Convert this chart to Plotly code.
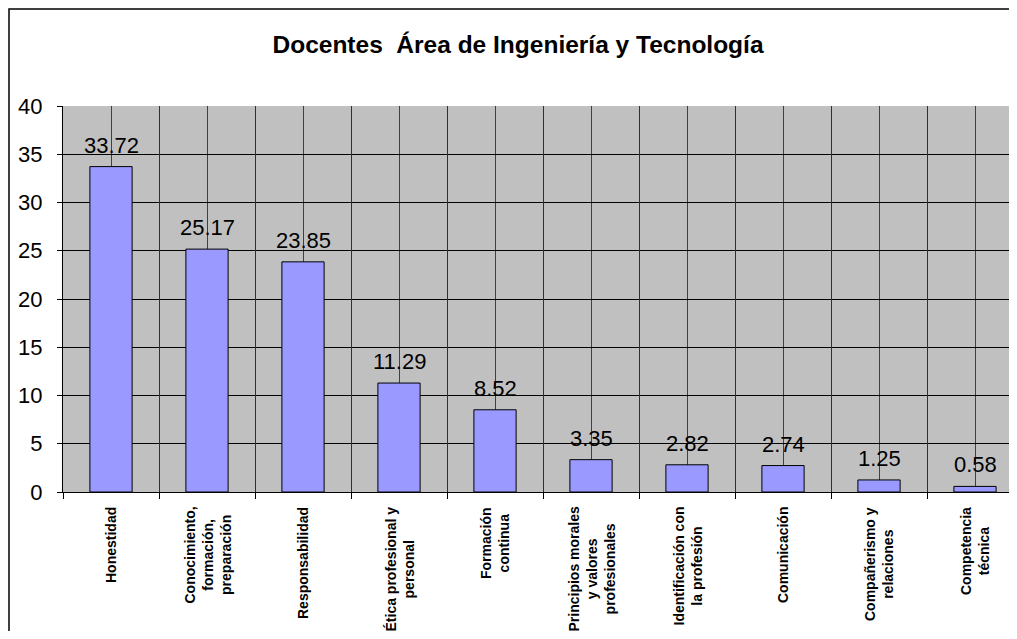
import plotly.graph_objects as go

categories = [
    "Honestidad",
    "Conocimiento,<br>formación,<br>preparación",
    "Responsabilidad",
    "Ética profesional y<br>personal",
    "Formación<br>continua",
    "Principios morales<br>y valores<br>profesionales",
    "Identificación con<br>la profesión",
    "Comunicación",
    "Compañerismo y<br>relaciones",
    "Competencia<br>técnica",
]
values = [33.72, 25.17, 23.85, 11.29, 8.52, 3.35, 2.82, 2.74, 1.25, 0.58]
y_ticks = [0, 5, 10, 15, 20, 25, 30, 35, 40]
title_text = "Docentes  Área de Ingeniería y Tecnología"

FONT = "Arial, Liberation Sans, sans-serif"
idx = list(range(len(categories)))
bounds = [i - 0.5 for i in range(len(categories) + 1)]

OFF = 8  # default page body margin
W, H = 1017 - OFF, 639 - 2 * OFF
L, T = 63 - OFF, 106 - OFF
PB = 492 - OFF  # plot bottom (figure px)
R, B = 0, H - PB
pw, ph = W - L - R, H - T - B
xrange_ = [-0.5, 9.5 - 6 / 96]

fig = go.Figure()
fig.add_trace(go.Bar(
    x=idx, y=values, width=0.44,
    marker=dict(color="#9999FF", line=dict(color="black", width=1)),
    showlegend=False, hoverinfo="skip",
))
fig.add_trace(go.Scatter(x=[None], y=[None], xaxis="x2", showlegend=False, hoverinfo="skip"))

annotations = []
for i, v in zip(idx, values):
    annotations.append(dict(
        x=i, xref="x", y=v, yref="y", text=f"{v:.2f}", showarrow=False,
        xanchor="center", yanchor="bottom", yshift=7,
        font=dict(family=FONT, size=22, color="black"),
    ))
for i, lab in zip(idx, categories):
    annotations.append(dict(
        x=i, xref="x", y=(PB - (505 - OFF)) / ph, yref="paper",
        text=lab, showarrow=False, textangle=-90,
        xanchor="center", yanchor="top", align="center",
        font=dict(family=FONT, size=14, color="black", weight="bold"),
    ))

fig.update_layout(
    width=W, height=H,
    margin=dict(l=L, r=R, t=T, b=B, pad=0),
    paper_bgcolor="white", plot_bgcolor="#C0C0C0",
    title=dict(text=f"<b>{title_text}</b>", x=(518 - OFF) / W, xanchor="center",
               y=1 - (44 - OFF) / H, yanchor="middle",
               font=dict(family=FONT, size=24.5, color="black")),
    xaxis=dict(range=xrange_, tickvals=idx, showticklabels=False, ticks="",
               showgrid=True, gridcolor="#404040", gridwidth=1,
               showline=True, linecolor="black", linewidth=1, zeroline=False),
    xaxis2=dict(range=xrange_, overlaying="x", anchor="y", tickvals=bounds,
                showticklabels=False, ticks="outside", ticklen=6, tickcolor="black",
                showgrid=True, gridcolor="#303030", gridwidth=1, zeroline=False,
                showline=False),
    yaxis=dict(range=[0, 40], tickvals=y_ticks, ticks="outside", ticklen=5,
               tickcolor="black", ticklabelstandoff=10,
               tickfont=dict(family=FONT, size=22, color="black"),
               showgrid=True, gridcolor="black", gridwidth=1,
               showline=True, linecolor="black", linewidth=1, zeroline=False),
    annotations=annotations,
    shapes=[dict(type="rect", xref="paper", yref="paper",
                 x0=(1 - L) / pw, x1=1.05, y0=-0.6, y1=(PB - 1) / ph,
                 line=dict(color="black", width=1.5), layer="above")],
    bargap=0.5,
)

fig.write_html("out.html")
